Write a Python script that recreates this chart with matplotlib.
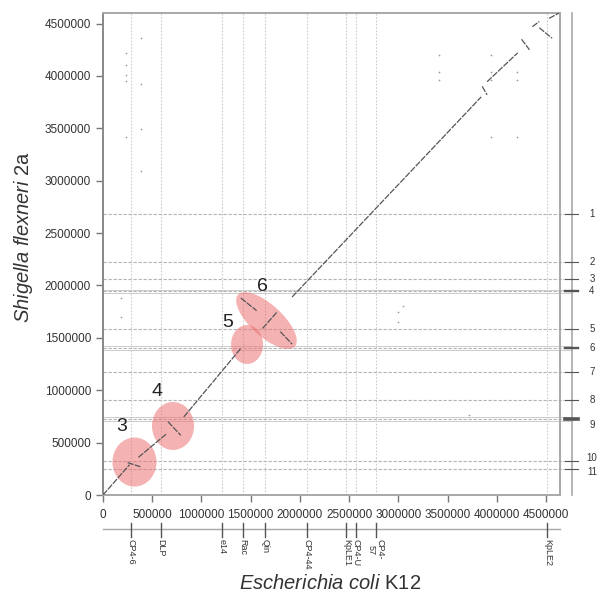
import numpy as np
import matplotlib
matplotlib.use('Agg')
import matplotlib.pyplot as plt
import matplotlib.transforms as mtransforms
from matplotlib.patches import Ellipse

plt.rcParams['font.family'] = ['Liberation Sans', 'DejaVu Sans']
plt.rcParams['mathtext.fontset'] = 'custom'
plt.rcParams['mathtext.it'] = 'Liberation Sans:italic'
plt.rcParams['mathtext.rm'] = 'Liberation Sans'

MB = 1e6
ecoli_len = 4.64 * MB      # x axis length (E. coli K12)
sflex_len = 4.60 * MB      # y axis length (S. flexneri 2a)

# alignment blocks in Mb: x0, y0 -> x1, y1
blk_x0 = [0.00, 0.25, 0.36, 0.66, 0.82, 1.40, 1.80, 1.62, 1.92, 3.85, 3.90, 4.25, 4.36, 4.43, 4.53]
blk_y0 = [0.00, 0.31, 0.36, 0.70, 0.745, 1.88, 1.56, 1.59, 1.89, 3.90, 3.945, 4.35, 4.47, 4.46, 4.55]
blk_x1 = [0.27, 0.38, 0.64, 0.79, 1.40, 1.56, 1.92, 1.77, 3.84, 3.90, 4.21, 4.33, 4.43, 4.56, 4.63]
blk_y1 = [0.29, 0.27, 0.58, 0.57, 1.40, 1.76, 1.44, 1.75, 3.80, 3.82, 4.22, 4.25, 4.52, 4.36, 4.60]

# scattered repeat hits (Mb)
rep_x = [0.23, 0.23, 0.23, 0.23, 0.23, 0.39, 0.39, 0.39, 0.39, 3.41, 3.41, 3.41,
         3.94, 3.94, 3.94, 4.20, 4.20, 3.94, 4.20, 3.00, 3.00, 3.72, 0.18, 0.18, 3.05]
rep_y = [4.22, 4.10, 4.01, 3.95, 3.42, 4.36, 3.92, 3.49, 3.09, 4.20, 4.04, 3.96,
         4.20, 4.04, 3.96, 4.04, 3.96, 3.42, 3.42, 1.75, 1.65, 0.76, 1.88, 1.70, 1.80]

# E. coli prophages (bottom track)
phage_names = ['CP4-6', 'DLP', 'e14', 'Rac', 'Qin', 'CP4-44', 'KpLE1', 'CP4-U', 'CP4-\n57', 'KpLE2']
phage_pos = [0.285, 0.59, 1.21, 1.42, 1.646, 2.07, 2.47, 2.57, 2.77, 4.512]

# S. flexneri breakpoints (right track)
sf_labels = ['1', '2', '3', '4', '5', '6', '7', '8', '9', '10', '11']
sf_pos = [2.684, 2.225, 2.063, 1.944, 1.585, 1.404, 1.175, 0.907, 0.726, 0.325, 0.248]
sf_width = [1, 1, 1, 2, 1, 2, 1, 1, 3, 1, 1]

# highlighted regions: center x, center y, width, height (Mb), angle
reg_names = ['3', '4', '5', '6']
reg_cx = [0.32, 0.711, 1.463, 1.66]
reg_cy = [0.315, 0.659, 1.437, 1.665]
reg_w = [0.447, 0.427, 0.325, 0.76]
reg_h = [0.468, 0.458, 0.372, 0.31]
reg_ang = [0, 0, 0, -40]
lab_x = [0.193, 0.549, 1.27, 1.616]
lab_y = [0.65, 0.984, 1.643, 1.987]

fig = plt.figure(figsize=(6.05, 5.95), dpi=100)
ax = fig.add_axes([0.1702, 0.168, 0.7554, 0.810])

ax.set_xlim(0, ecoli_len)
ax.set_ylim(0, sflex_len)

grey = '#a8a8a8'
# vertical prophage lines
for p in phage_pos:
    ax.axvline(p * MB, color='#cccccc', lw=0.8, ls=(0, (1.5, 1.5)), zorder=1)

# horizontal breakpoint lines, running out to the right track
for y in sf_pos:
    ax.axhline(y * MB, xmin=0, xmax=1.026, color='#b4b4b4', lw=0.8, ls=(0, (3, 1.5)),
               clip_on=False, zorder=1)
for y in [1.930, 1.958, 1.385, 1.423, 0.707, 0.745]:
    ax.axhline(y * MB, xmin=0, xmax=1.026, color='#c4c4c4', lw=0.6, clip_on=False, zorder=1)

ax.scatter(np.array(rep_x) * MB, np.array(rep_y) * MB, s=1.5, color='#9a9a9a', lw=0, zorder=2)

for i, nm in enumerate(reg_names):
    e = Ellipse((reg_cx[i] * MB, reg_cy[i] * MB), reg_w[i] * MB, reg_h[i] * MB, angle=reg_ang[i],
                facecolor=(0.93, 0.45, 0.45), alpha=0.55, edgecolor='none', zorder=3)
    ax.add_patch(e)
    ax.text(lab_x[i] * MB, lab_y[i] * MB, nm, fontsize=14, ha='center', va='center',
            color='#222222', zorder=5)

for i in range(len(blk_x0)):
    ax.plot([blk_x0[i] * MB, blk_x1[i] * MB], [blk_y0[i] * MB, blk_y1[i] * MB],
            color='#555555', lw=0.9, ls=(0, (5, 1)), zorder=4)

ax.set_xticks(np.arange(0, 4500001, 500000))
ax.set_yticks(np.arange(0, 4500001, 500000))
ax.ticklabel_format(style='plain', useOffset=False)
ax.tick_params(axis='both', direction='out', length=5, width=1, color='#777777',
               labelsize=8.5, labelcolor='#333333')
ax.tick_params(axis='x', pad=5)
for s in ax.spines.values():
    s.set_color(grey)
    s.set_linewidth(1.4)
ax.spines['left'].set_color('#888888')

# right track
ax.plot([1.026, 1.026], [0, 1], transform=ax.transAxes, color=grey, lw=1.2, clip_on=False)
trR = mtransforms.blended_transform_factory(ax.transAxes, ax.transData)
nudge = {'9': -0.055, '10': 0.03, '11': -0.03}
for lab, y, w in zip(sf_labels, sf_pos, sf_width):
    ax.plot([1.012, 1.040], [y * MB, y * MB], transform=trR, color='#555555', lw=0.8 + 0.9 * (w - 1),
            clip_on=False)
    yy = (y + nudge.get(lab, 0)) * MB
    ax.text(1.07, yy, lab, transform=trR, fontsize=7, ha='center', va='center', color='#333333')

# bottom track
trB = mtransforms.blended_transform_factory(ax.transData, ax.transAxes)
ax.plot([0, 1], [-0.0705, -0.0705], transform=ax.transAxes, color=grey, lw=1.0, clip_on=False)
for nm, p in zip(phage_names, phage_pos):
    ax.plot([p * MB, p * MB], [-0.058, -0.087], transform=trB, color='#555555', lw=1.0, clip_on=False)
    ax.text(p * MB, -0.092, nm, transform=trB, rotation=270, fontsize=6.5, ha='center', va='top',
            color='#333333', linespacing=1.0)

ax.set_xlabel(r'$\it{Escherichia\ coli}$ K12', fontsize=14.5, color='#333333')
ax.xaxis.set_label_coords(0.497, -0.163)
ax.set_ylabel(r'$\it{Shigella\ flexneri}$ 2a', fontsize=14.5, color='#333333')
ax.yaxis.set_label_coords(-0.149, 0.535)

fig.savefig('out.png', dpi=100)
